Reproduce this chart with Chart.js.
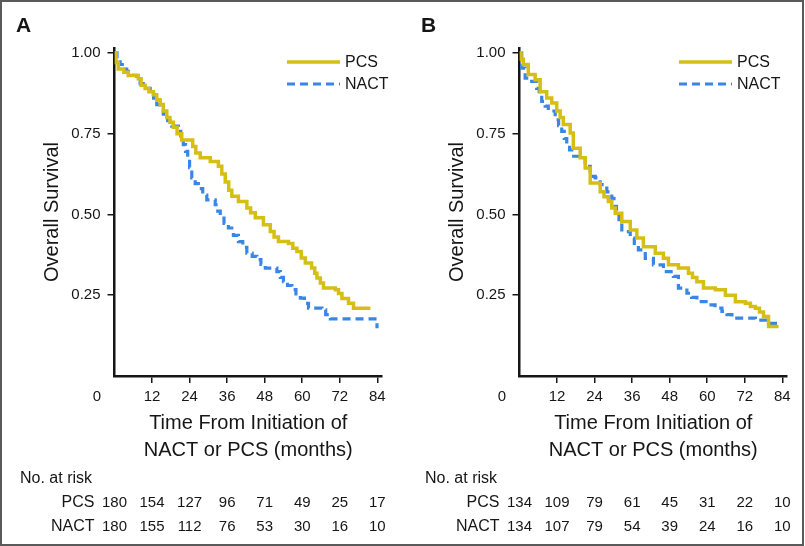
<!DOCTYPE html>
<html>
<head>
<meta charset="utf-8">
<script src="https://cdn.jsdelivr.net/npm/chart.js@4.4.1/dist/chart.umd.min.js"></script>
<style>
  html, body { margin: 0; padding: 0; background: #fff; }
  #frame { position: absolute; left: 0; top: 0; width: 800px; height: 542px; border: 2px solid #5a5a5a; }
  canvas { position: absolute; top: 0; }
  #chartA { left: 0; }
  #chartB { left: 405px; }
</style>
</head>
<body>
<div id="frame"></div>
<canvas id="chartA" width="400" height="546"></canvas>
<canvas id="chartB" width="400" height="546"></canvas>
<script>
// Kaplan-Meier curves (months, survival after the step)
const pcsTimeA = [0, 0.5, 1.2, 3, 4.4, 7.6, 8.5, 9.8, 11, 12.4, 13.5, 14.6, 15.6, 16.7, 17.7, 18.8, 20, 21.5, 25, 26, 27.4, 30.6, 33.2, 34.3, 35.4, 36.5, 37.5, 39.6, 42.3, 43.5, 45, 47.6, 49.8, 51, 52.4, 55.6, 57, 58.3, 59.7, 61, 63, 64, 64.7, 65.8, 66.8, 70.6, 71.6, 72.7, 74.8, 76.4, 81.8];
const pcsSurvA = [1.0, 0.97, 0.95, 0.94, 0.93, 0.92, 0.90, 0.89, 0.88, 0.87, 0.855, 0.84, 0.82, 0.80, 0.785, 0.77, 0.75, 0.73, 0.71, 0.69, 0.675, 0.664, 0.649, 0.625, 0.60, 0.575, 0.556, 0.54, 0.52, 0.505, 0.49, 0.468, 0.447, 0.43, 0.416, 0.41, 0.395, 0.385, 0.365, 0.35, 0.334, 0.318, 0.303, 0.288, 0.272, 0.267, 0.255, 0.24, 0.225, 0.21, 0.21];

const nactTimeA = [0, 0.8, 1.8, 3, 3.9, 5.5, 7.1, 8.2, 9.2, 11.4, 12.5, 13.5, 14.5, 15.6, 17, 18.3, 20.4, 21.2, 22, 22.7, 23.4, 24, 24.7, 25.8, 26.8, 28.2, 29.5, 32.2, 33, 33.8, 35, 36.4, 38, 39.6, 41, 42.3, 44, 45.5, 46.8, 48.2, 51.9, 53, 54, 55.3, 56.7, 58, 59.4, 60.7, 62, 66.3, 67.5, 69, 83.4, 83.9];
const nactSurvA = [1.0, 0.98, 0.964, 0.95, 0.943, 0.93, 0.922, 0.905, 0.89, 0.876, 0.86, 0.84, 0.825, 0.81, 0.79, 0.773, 0.757, 0.735, 0.716, 0.695, 0.675, 0.645, 0.613, 0.595, 0.58, 0.56, 0.545, 0.53, 0.51, 0.489, 0.472, 0.458, 0.435, 0.416, 0.398, 0.38, 0.37, 0.36, 0.345, 0.334, 0.323, 0.305, 0.292, 0.28, 0.267, 0.254, 0.241, 0.225, 0.21, 0.205, 0.19, 0.177, 0.177, 0.148];

const pcsTimeB = [0, 0.5, 1.2, 2.8, 5, 6.6, 8.7, 10.3, 11.9, 13, 14, 16.2, 17.2, 19.4, 21, 22.6, 25.8, 27, 28.4, 29.5, 30.6, 32.7, 35.4, 37.5, 39.6, 43.4, 46, 47.6, 50.8, 54, 55.3, 56.7, 58.8, 62.6, 65.8, 69, 72.2, 73.8, 75.4, 76.7, 78, 79.6, 82.8];
const pcsSurvB = [1.0, 0.98, 0.964, 0.933, 0.917, 0.88, 0.86, 0.845, 0.82, 0.80, 0.778, 0.752, 0.705, 0.675, 0.644, 0.597, 0.57, 0.555, 0.54, 0.52, 0.504, 0.478, 0.452, 0.427, 0.40, 0.38, 0.364, 0.344, 0.334, 0.318, 0.305, 0.292, 0.272, 0.267, 0.25, 0.23, 0.225, 0.215, 0.21, 0.198, 0.184, 0.153, 0.153];

const nactTimeB = [0, 0.7, 1.8, 3.9, 5.5, 6.3, 7.1, 8.2, 9.2, 11.4, 12.5, 13.5, 14.3, 15.1, 16, 16.7, 19.4, 21, 22.6, 24.2, 25.8, 27.9, 29.5, 30.2, 31, 31.8, 32.7, 35.4, 36.7, 38, 40.2, 42.8, 46, 49.2, 50.8, 53.5, 55, 56.7, 60.4, 62.5, 64.7, 66.3, 67.9, 75.4, 79.6, 82.8];
const nactSurvB = [1.0, 0.953, 0.922, 0.912, 0.89, 0.87, 0.85, 0.835, 0.82, 0.793, 0.775, 0.757, 0.735, 0.716, 0.70, 0.68, 0.675, 0.649, 0.618, 0.613, 0.592, 0.57, 0.55, 0.525, 0.499, 0.475, 0.447, 0.427, 0.41, 0.39, 0.364, 0.344, 0.323, 0.308, 0.272, 0.256, 0.243, 0.23, 0.22, 0.21, 0.20, 0.19, 0.179, 0.173, 0.163, 0.153];

// number at risk table
const riskTimes = [0, 12, 24, 36, 48, 60, 72, 84];
const pcsRiskA = [180, 154, 127, 96, 71, 49, 25, 17];
const nactRiskA = [180, 155, 112, 76, 53, 30, 16, 10];
const pcsRiskB = [134, 109, 79, 61, 45, 31, 22, 10];
const nactRiskB = [134, 107, 79, 54, 39, 24, 16, 10];

const xTicks = [12, 24, 36, 48, 60, 72, 84];
const yTicks = [0.25, 0.50, 0.75, 1.00];

const pcsColor = '#d6bf14';
const nactColor = '#3a86e6';
const ink = '#161616';
const regular = '"Liberation Sans", Arial, sans-serif';

function toPoints(times, surv) {
  return times.map((t, i) => ({ x: t, y: surv[i] }));
}

const extras = {
  id: 'extras',
  afterDraw(chart, args, opts) {
    const ctx = chart.ctx;
    const xs = chart.scales.x;
    const x0 = xs.getPixelForValue(0);
    ctx.save();
    ctx.fillStyle = ink;

    // panel letter
    ctx.font = 'bold 21px ' + regular;
    ctx.textAlign = 'left';
    ctx.textBaseline = 'middle';
    ctx.fillText(opts.letter, 16, 26);

    // shared zero at the corner
    ctx.font = '15px ' + regular;
    ctx.textAlign = 'center';
    ctx.fillText('0', x0 - 17.5, 397);

    // legend
    const lx = opts.legendX;
    chart.data.datasets.forEach((ds, i) => {
      const ly = 62 + i * 22;
      ctx.strokeStyle = ds.borderColor;
      ctx.lineWidth = ds.borderWidth;
      ctx.setLineDash(ds.borderDash || []);
      ctx.beginPath();
      ctx.moveTo(lx, ly);
      ctx.lineTo(lx + 53, ly);
      ctx.stroke();
      ctx.setLineDash([]);
      ctx.font = '16px ' + regular;
      ctx.textAlign = 'left';
      ctx.fillText(ds.label, lx + 58, ly + 1);
    });

    // number at risk
    ctx.font = '16px ' + regular;
    ctx.textAlign = 'left';
    ctx.fillText('No. at risk', 20, 479);
    ctx.textAlign = 'right';
    ctx.fillText('PCS', x0 - 20, 503);
    ctx.fillText('NACT', x0 - 20, 527);
    ctx.font = '15px ' + regular;
    ctx.textAlign = 'center';
    riskTimes.forEach((t, i) => {
      const px = xs.getPixelForValue(t);
      ctx.fillText(String(opts.pcsRisk[i]), px, 503);
      ctx.fillText(String(opts.nactRisk[i]), px, 527);
    });
    ctx.restore();
  }
};

function makeChart(id, pcsPts, nactPts, letter, legendX, pcsRisk, nactRisk) {
  return new Chart(document.getElementById(id), {
    type: 'line',
    data: {
      datasets: [
        { label: 'PCS', data: pcsPts, borderColor: pcsColor, borderWidth: 3.5, stepped: true, pointRadius: 0, fill: false },
        { label: 'NACT', data: nactPts, borderColor: nactColor, borderWidth: 3.2, borderDash: [8, 5], stepped: true, pointRadius: 0, fill: false }
      ]
    },
    options: {
      responsive: false,
      animation: false,
      events: [],
      layout: { padding: { left: 38.5, top: 48, right: 18, bottom: 82.5 } },
      plugins: {
        legend: { display: false },
        tooltip: { enabled: false },
        extras: { letter, legendX, pcsRisk, nactRisk }
      },
      scales: {
        x: {
          type: 'linear',
          min: 0,
          max: 85.5,
          afterBuildTicks: s => { s.ticks = xTicks.map(v => ({ value: v })); },
          afterFit: s => { s.height = 87.5; },
          border: { display: true, color: ink, width: 2.5 },
          grid: { drawOnChartArea: false, drawTicks: true, tickLength: 7, color: ink, lineWidth: 1.5 },
          ticks: { color: ink, font: { family: regular, size: 15 }, padding: 5, maxRotation: 0 },
          title: {
            display: true,
            text: ['Time From Initiation of', 'NACT or PCS (months)'],
            color: ink,
            font: { family: regular, size: 20, lineHeight: 1.35 },
            padding: 0
          }
        },
        y: {
          min: 0,
          max: 1.015,
          afterBuildTicks: s => { s.ticks = yTicks.map(v => ({ value: v })); },
          afterFit: s => { s.width = 76; },
          border: { display: true, color: ink, width: 2.5 },
          grid: { drawOnChartArea: false, drawTicks: true, tickLength: 7, color: ink, lineWidth: 1.5 },
          ticks: { color: ink, font: { family: regular, size: 15 }, padding: 7, callback: v => Number(v).toFixed(2) },
          title: {
            display: true,
            text: 'Overall Survival',
            color: ink,
            font: { family: regular, size: 20, lineHeight: 1.35 },
            padding: 0
          }
        }
      }
    },
    plugins: [extras]
  });
}

makeChart('chartA', toPoints(pcsTimeA, pcsSurvA), toPoints(nactTimeA, nactSurvA), 'A', 287, pcsRiskA, nactRiskA);
makeChart('chartB', toPoints(pcsTimeB, pcsSurvB), toPoints(nactTimeB, nactSurvB), 'B', 274, pcsRiskB, nactRiskB);
</script>
</body>
</html>
